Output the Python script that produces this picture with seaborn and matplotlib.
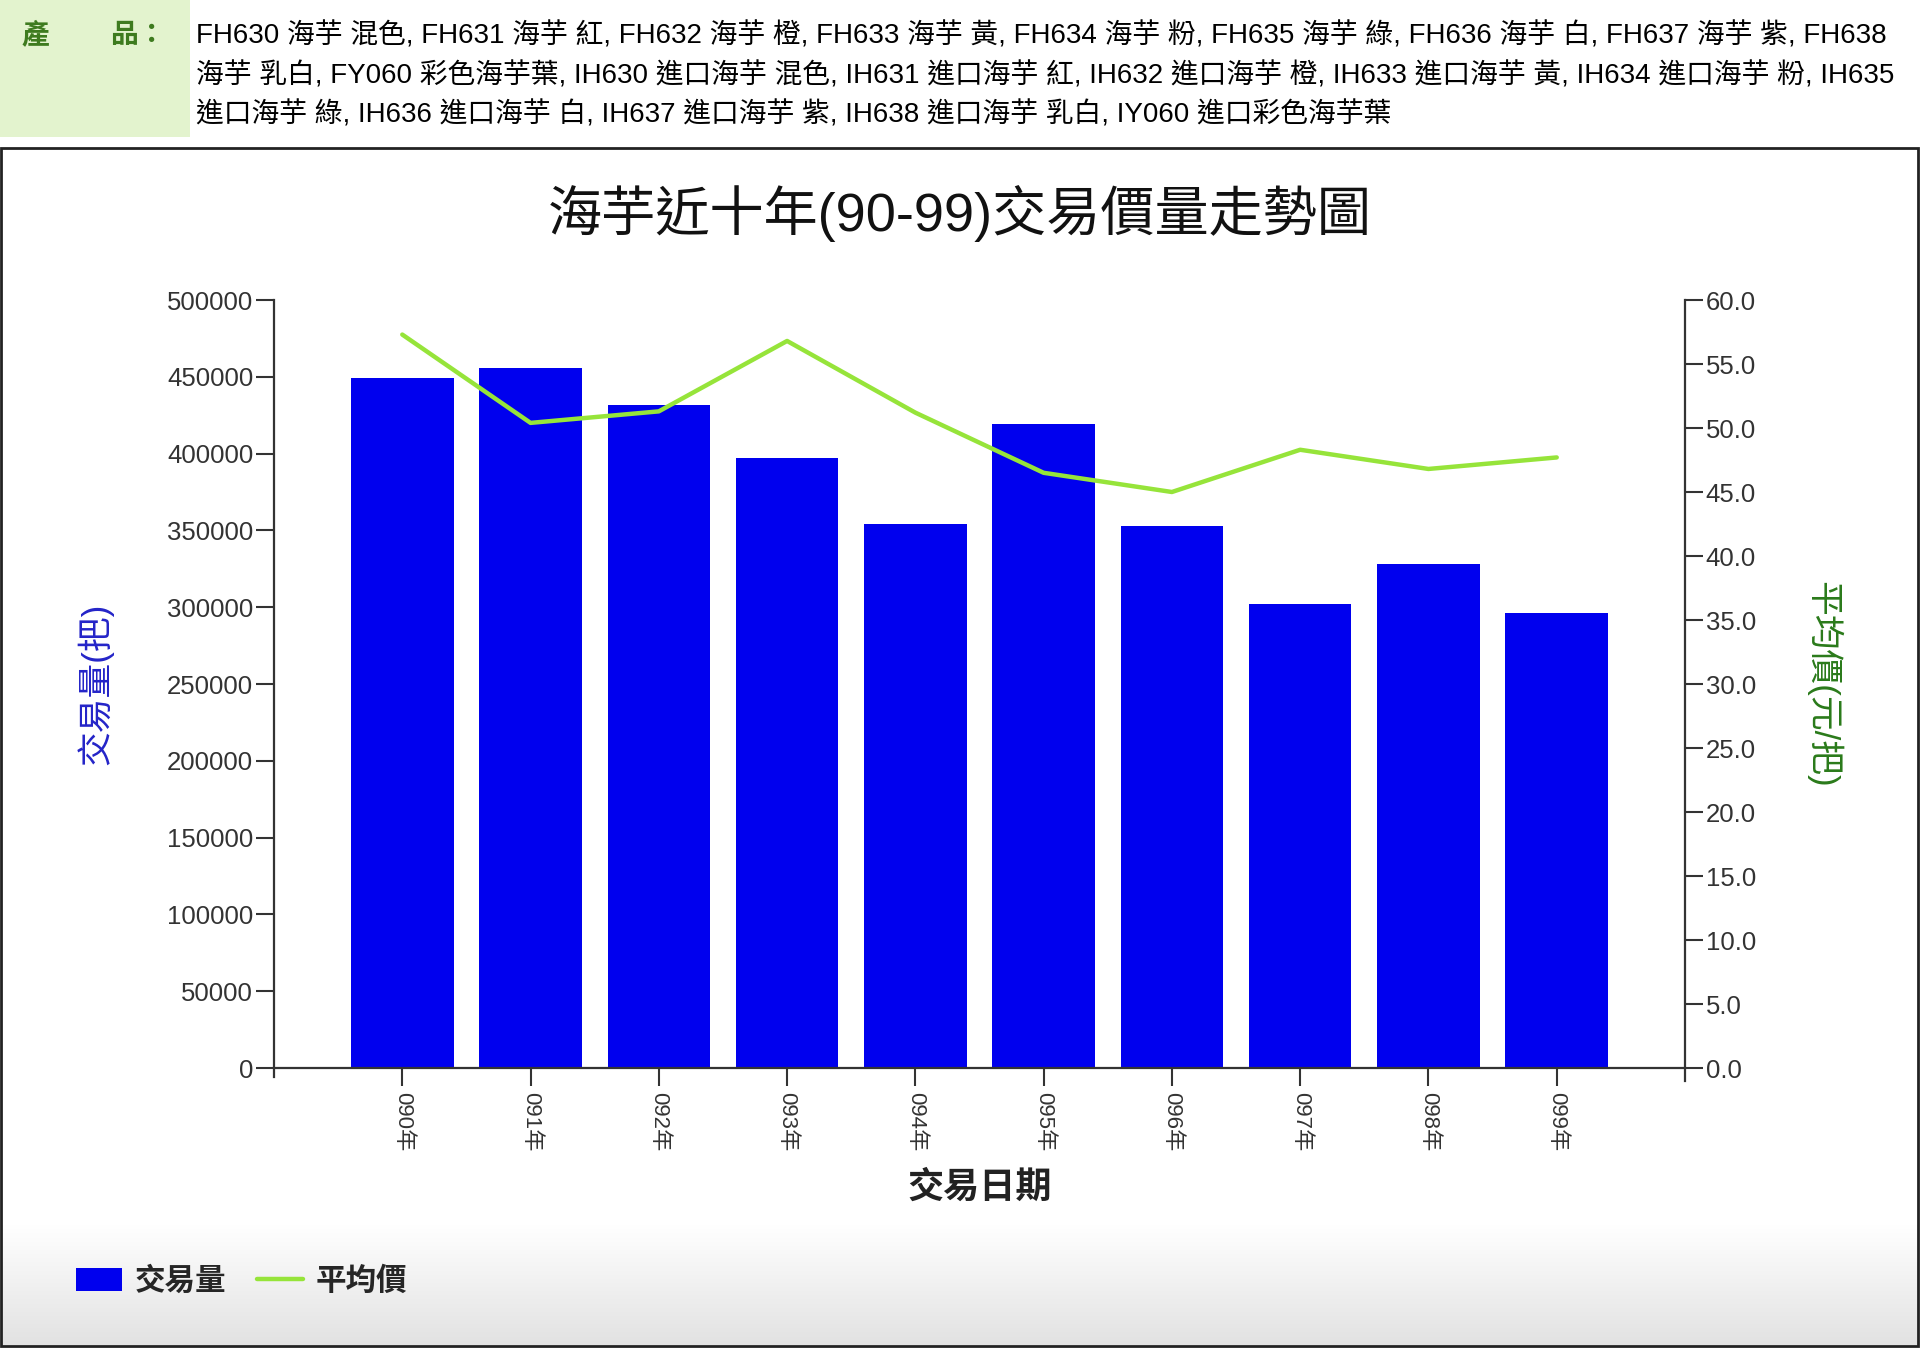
import numpy as np
import pandas as pd
import matplotlib
matplotlib.use("Agg")
import matplotlib.pyplot as plt
import seaborn as sns
from matplotlib.patches import Rectangle, Patch
from matplotlib.lines import Line2D
from matplotlib.colors import LinearSegmentedColormap

# ---------------- data ----------------
years = ["090年", "091年", "092年", "093年", "094年", "095年", "096年", "097年", "098年", "099年"]
volume = [449000, 456000, 431500, 397000, 354000, 419500, 353000, 302000, 328000, 296000]
avg_price = [57.3, 50.4, 51.3, 56.8, 51.2, 46.5, 45.0, 48.3, 46.8, 47.7]
vol_ticks = list(range(0, 500001, 50000))
price_ticks = [0, 5, 10, 15, 20, 25, 30, 35, 40, 45, 50, 55, 60]

title = "海芋近十年(90-99)交易價量走勢圖"
xlabel = "交易日期"
ylabel_left = "交易量(把)"
ylabel_right = "平均價(元/把)"
legend_labels = ["交易量", "平均價"]
header_label_a = "產"
header_label_b = "品："
header_lines = [
    "FH630 海芋 混色, FH631 海芋 紅, FH632 海芋 橙, FH633 海芋 黃, FH634 海芋 粉, FH635 海芋 綠, FH636 海芋 白, FH637 海芋 紫, FH638",
    "海芋 乳白, FY060 彩色海芋葉, IH630 進口海芋 混色, IH631 進口海芋 紅, IH632 進口海芋 橙, IH633 進口海芋 黃, IH634 進口海芋 粉, IH635",
    "進口海芋 綠, IH636 進口海芋 白, IH637 進口海芋 紫, IH638 進口海芋 乳白, IY060 進口彩色海芋葉",
]

# ---------------- style ----------------
sns.set_theme(style="white")
plt.rcParams["font.family"] = ["Liberation Sans", "Noto Sans CJK TC", "DejaVu Sans"]

W, H = 1920, 1348
fig = plt.figure(figsize=(W / 100, H / 100), dpi=100)
fig.patch.set_facecolor("white")


def fx(px):
    return px / W


def fy(py):
    return 1 - py / H


BAR = "#0000EE"
LINE = "#96E43A"
GRAY = "#333333"

# bottom gradient of the chart box
gax = fig.add_axes([fx(2), fy(1345), fx(1916), (1345 - 1225) / H], zorder=-5)
grad = np.linspace(0, 1, 256).reshape(-1, 1)
cmap = LinearSegmentedColormap.from_list("g", ["#ffffff", "#e2e2e2"])
gax.imshow(grad, aspect="auto", cmap=cmap, extent=[0, 1, 0, 1], origin="upper")
gax.axis("off")

# header
fig.patches.append(Rectangle((0, fy(137)), fx(190), 137 / H, transform=fig.transFigure,
                             facecolor="#E3F3CE", edgecolor="none", zorder=0))
fig.text(fx(22), fy(36), header_label_a, fontsize=20, fontweight="bold", color="#3E7B1F",
         va="center", ha="left")
fig.text(fx(110), fy(36), header_label_b, fontsize=20, fontweight="bold", color="#3E7B1F",
         va="center", ha="left")
for i, line in enumerate(header_lines):
    fig.text(fx(196), fy(36 + i * 39.5), line, fontsize=20, color="black", va="center", ha="left")

# chart box border
fig.patches.append(Rectangle((fx(1), fy(1346)), fx(1917), (1346 - 148) / H, transform=fig.transFigure,
                             facecolor="none", edgecolor="#222222", lw=2, zorder=10))

# ---------------- axes ----------------
ax = fig.add_axes([fx(274), fy(1068), (1685 - 274) / W, (1068 - 300) / H])
ax.patch.set_alpha(0)
df = pd.DataFrame({"年度": years, "交易量": volume, "平均價": avg_price})
df["pos"] = np.arange(len(df))

sns.barplot(data=df, x="年度", y="交易量", color=BAR, saturation=1, width=0.8,
            edgecolor="none", ax=ax)
ax2 = ax.twinx()
sns.lineplot(data=df, x="pos", y="平均價", color=LINE, lw=3.2, ax=ax2)

ax.set_xlim(-1, len(years))
ax.set_ylim(0, 500000)
ax2.set_ylim(0, 60)
ax.set_yticks(vol_ticks)
ax.set_yticklabels([str(v) for v in vol_ticks])
ax2.set_yticks(price_ticks)
ax2.set_yticklabels([f"{v:.1f}" for v in price_ticks])

for s in ["top", "right"]:
    ax.spines[s].set_visible(False)
for s in ["top", "left", "bottom"]:
    ax2.spines[s].set_visible(False)
for sp in [ax.spines["left"], ax.spines["bottom"], ax2.spines["right"]]:
    sp.set_color(GRAY)
    sp.set_linewidth(1.6)
ax.spines["left"].set_bounds(-6000, 500000)
ax2.spines["right"].set_bounds(-1, 60)

ax.tick_params(axis="y", left=True, direction="out", length=13, width=1.5, color=GRAY,
               labelsize=18.5, labelcolor=GRAY, pad=2)
ax.tick_params(axis="x", bottom=True, direction="out", length=13, width=1.5, color=GRAY,
               labelsize=16, labelcolor=GRAY, pad=4, labelrotation=-90)
ax2.tick_params(axis="y", right=True, direction="out", length=13, width=1.5, color=GRAY,
                labelsize=18.5, labelcolor=GRAY, pad=2)

ax.set_xlabel(xlabel, fontsize=26, fontweight="bold", color="#222222")
ax.xaxis.set_label_coords(0.5, (1068 - 1188) / 768)
ax.xaxis.label.set_va("center")

ax.set_ylabel(ylabel_left, fontsize=25, color="#2424C8")
ax.yaxis.set_label_coords((95 - 274) / 1411, 0.5)
ax.yaxis.label.set_va("center")

ax2.set_ylabel(ylabel_right, fontsize=25, color="#2A7A1A", rotation=-90)
ax2.yaxis.set_label_coords((1823 - 274) / 1411, 0.5)
ax2.yaxis.label.set_va("center")
ax2.yaxis.label.set_ha("center")

fig.text(fx(960), fy(214), title, fontsize=39, color="#111111", ha="center", va="center")

handles = [Patch(facecolor=BAR, edgecolor="none"), Line2D([], [], color=LINE, lw=3.2)]
leg = fig.legend(handles, legend_labels, loc="center left", bbox_to_anchor=(fx(76), fy(1282)),
                 ncol=2, frameon=False, borderpad=0, borderaxespad=0, handlelength=1.5,
                 handleheight=0.75, handletextpad=0.42, columnspacing=1.0,
                 prop={"size": 22, "weight": "bold"})

fig.savefig("out.png", dpi=100)
